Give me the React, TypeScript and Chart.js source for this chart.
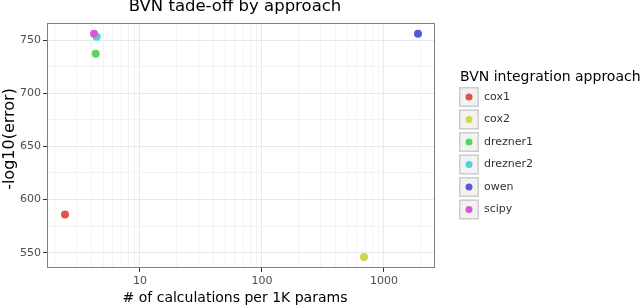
import React, { useEffect, useRef } from 'react';
import { Chart, registerables } from 'chart.js';

Chart.register(...registerables);

const approaches = ['cox1', 'cox2', 'drezner1', 'drezner2', 'owen', 'scipy'];
const calcsPer1K = [2.43, 686, 4.34, 4.42, 1900, 4.2];
const negLog10Error = [586, 546, 737, 753, 756, 756];
const colors = ['#e0524c', '#cfd64b', '#5bd65c', '#52d1d6', '#5a55e0', '#d957d6'];
const xMajorTicks = [10, 100, 1000];
const xMinorTicks = [2, 3, 4, 5, 6, 7, 8, 9, 20, 30, 40, 50, 60, 70, 80, 90, 200, 300, 400, 500, 600, 700, 800, 900, 2000];
const yMajorTicks = [550, 600, 650, 700, 750];
const yMinorTicks = [575, 625, 675, 725];

const titleText = 'BVN tade-off by approach';
const xTitle = '# of calculations per 1K params';
const yTitle = '-log10(error)';
const legendTitle = 'BVN integration approach';

const FONT = '"DejaVu Sans", sans-serif';

const isMajorX = (v: number) => xMajorTicks.includes(v);
const isMajorY = (v: number) => yMajorTicks.includes(v);

const decorPlugin = {
  id: 'decor',
  afterDraw(chart: any) {
    const ctx = chart.ctx;
    const a = chart.chartArea;
    ctx.save();
    // panel border
    ctx.strokeStyle = '#7f7f7f';
    ctx.lineWidth = 1;
    ctx.strokeRect(a.left + 0.5, a.top + 0.5, a.right - a.left - 1, a.bottom - a.top - 1);
    // title
    ctx.fillStyle = '#000';
    ctx.font = `16.5px ${FONT}`;
    ctx.textAlign = 'center';
    ctx.textBaseline = 'alphabetic';
    ctx.fillText(titleText, 235, 11);
    // x title
    ctx.font = `14px ${FONT}`;
    ctx.textBaseline = 'middle';
    ctx.fillText(xTitle, 235, 298);
    // y title
    ctx.save();
    ctx.translate(10, 139);
    ctx.rotate(-Math.PI / 2);
    ctx.font = `16px ${FONT}`;
    ctx.fillText(yTitle, 0, 0);
    ctx.restore();
    // legend
    ctx.textAlign = 'left';
    ctx.font = `14px ${FONT}`;
    ctx.fillStyle = '#000';
    ctx.fillText(legendTitle, 460, 77);
    ctx.font = `11px ${FONT}`;
    approaches.forEach((name, i) => {
      const top = 87 + 22.5 * i;
      ctx.fillStyle = '#f2f2f2';
      ctx.fillRect(459, top, 20, 20);
      ctx.strokeStyle = '#cdcdcd';
      ctx.lineWidth = 1.5;
      ctx.strokeRect(459.75, top + 0.75, 18.5, 18.5);
      ctx.beginPath();
      ctx.arc(469, top + 10, 3.5, 0, Math.PI * 2);
      ctx.fillStyle = colors[i];
      ctx.fill();
      ctx.fillStyle = '#333';
      ctx.fillText(name, 484, top + 10);
    });
    ctx.restore();
  },
};

export default function App() {
  const ref = useRef<HTMLCanvasElement>(null);
  useEffect(() => {
    if (!ref.current) return;
    const chart = new Chart(ref.current, {
      type: 'scatter',
      data: {
        datasets: approaches.map((name, i) => ({
          label: name,
          data: [{ x: calcsPer1K[i], y: negLog10Error[i] }],
          backgroundColor: colors[i],
          borderColor: colors[i],
          borderWidth: 0,
          pointRadius: 4,
          order: approaches.length - 1 - i,
        })),
      },
      options: {
        responsive: false,
        animation: false,
        layout: { padding: { left: 0, top: 23, right: 205, bottom: 0 } },
        plugins: { legend: { display: false }, tooltip: { enabled: false }, title: { display: false } },
        scales: {
          x: {
            type: 'logarithmic',
            min: 1.73,
            max: 2620,
            afterBuildTicks: (scale: any) => {
              scale.ticks = [...xMinorTicks, ...xMajorTicks].sort((a, b) => a - b).map((v) => ({ value: v }));
            },
            afterFit: (scale: any) => {
              scale.height = 39;
            },
            ticks: {
              autoSkip: false,
              maxRotation: 0,
              minRotation: 0,
              padding: 3,
              color: '#4d4d4d',
              font: { family: FONT, size: 11 },
              callback: (v: any) => (isMajorX(Number(v)) ? String(v) : ''),
            },
            grid: {
              color: (c: any) => (c.tick && isMajorX(c.tick.value) ? '#e8e8e8' : '#f3f3f3'),
              lineWidth: 1,
              tickLength: 4,
              tickColor: (c: any) => (c.tick && isMajorX(c.tick.value) ? '#333333' : 'rgba(0,0,0,0)'),
            },
            border: { display: false },
          },
          y: {
            type: 'linear',
            min: 535.6,
            max: 766,
            afterBuildTicks: (scale: any) => {
              scale.ticks = [...yMinorTicks, ...yMajorTicks].sort((a, b) => a - b).map((v) => ({ value: v }));
            },
            afterFit: (scale: any) => {
              scale.width = 47;
            },
            ticks: {
              autoSkip: false,
              padding: 2,
              color: '#4d4d4d',
              font: { family: FONT, size: 11 },
              callback: (v: any) => (isMajorY(Number(v)) ? String(v) : ''),
            },
            grid: {
              color: (c: any) => (c.tick && isMajorY(c.tick.value) ? '#e8e8e8' : '#f3f3f3'),
              lineWidth: 1,
              tickLength: 4,
              tickColor: (c: any) => (c.tick && isMajorY(c.tick.value) ? '#333333' : 'rgba(0,0,0,0)'),
            },
            border: { display: false },
          },
        },
      },
      plugins: [decorPlugin],
    });
    return () => chart.destroy();
  }, []);
  return (
    <div style={{ position: 'fixed', left: 0, top: 0, width: 640, height: 307, background: '#fff' }}>
      <canvas ref={ref} width={640} height={307} style={{ display: 'block' }} />
    </div>
  );
}
